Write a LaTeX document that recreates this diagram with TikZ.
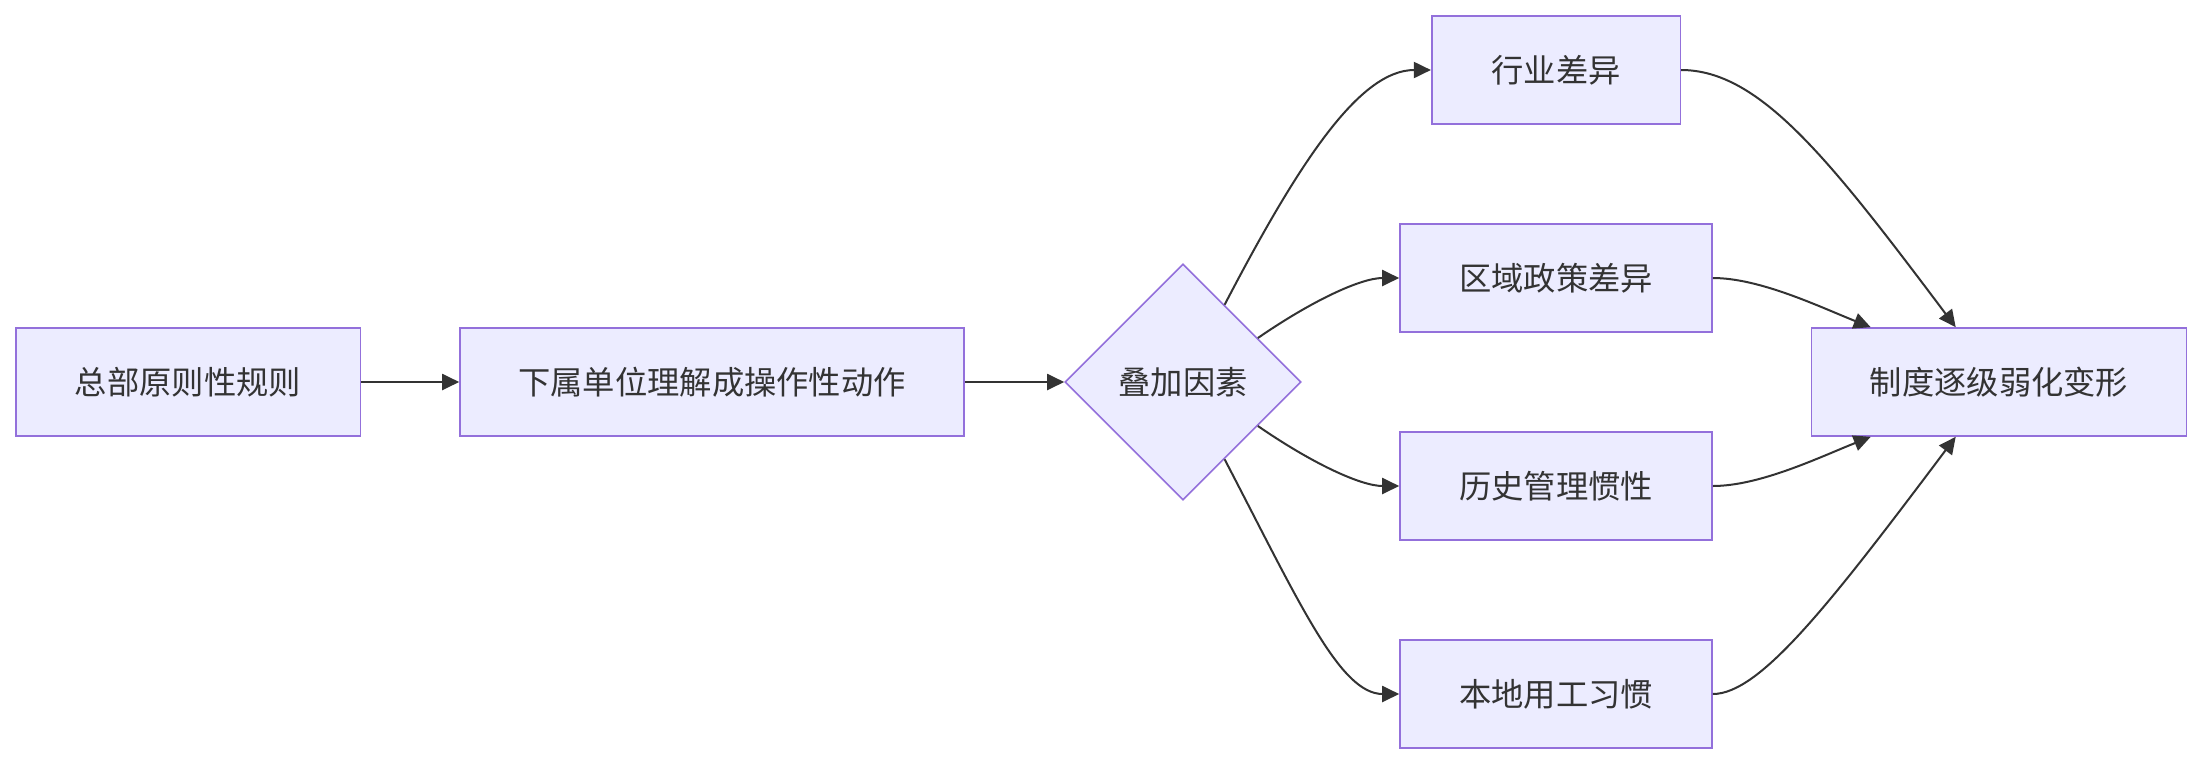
\documentclass[tikz,border=0pt]{standalone}
\usepackage{fontspec}
\newfontfamily\cjk{Noto Sans CJK SC}
\usetikzlibrary{arrows.meta,shapes.geometric,calc}
\definecolor{boxfill}{HTML}{ECECFF}
\definecolor{boxline}{HTML}{9370DB}
\definecolor{ink}{HTML}{333333}
\tikzset{
  box/.style={draw=boxline, fill=boxfill, line width=1.6pt, minimum height=108pt, inner sep=0pt, text=ink, font=\cjk\fontsize{32.3}{36}\selectfont},
  dia/.style={diamond, aspect=1, draw=boxline, fill=boxfill, line width=1.6pt, minimum width=236pt, minimum height=236pt, inner sep=0pt, text=ink, font=\cjk\fontsize{32.3}{36}\selectfont},
  conn/.style={draw=ink, line width=2pt, -{Triangle[length=17pt,width=16pt]}}
}
\begin{document}
\begin{tikzpicture}[x=1pt,y=-1pt]
\useasboundingbox (0,0) rectangle (2204,764);
\node[box, minimum width=344.6pt] (n1) at (188,382) {总部原则性规则};
\node[box, minimum width=504pt] (n2) at (712,382) {下属单位理解成操作性动作};
\node[dia] (d) at (1183,382) {叠加因素};
\node[box, minimum width=248.6pt] (ind) at (1556,70) {行业差异};
\node[box, minimum width=312pt] (reg) at (1556,278) {区域政策差异};
\node[box, minimum width=312pt] (his) at (1556,486) {历史管理惯性};
\node[box, minimum width=312pt] (loc) at (1556,694) {本地用工习惯};
\node[box, minimum width=375pt] (fin) at (1999,382) {制度逐级弱化变形};

\coordinate (s1) at ($(d.north)!0.35!(d.east)$);
\coordinate (s2) at ($(d.north)!0.63!(d.east)$);
\coordinate (s3) at ($(d.south)!0.63!(d.east)$);
\coordinate (s4) at ($(d.south)!0.35!(d.east)$);
\coordinate (t1) at ($(fin.north west)+(145,0)$);
\coordinate (t2) at ($(fin.north west)+(60,0)$);
\coordinate (t3) at ($(fin.south west)+(60,0)$);
\coordinate (t4) at ($(fin.south west)+(145,0)$);

\draw[conn] (n1.east) -- (n2.west);
\draw[conn] (n2.east) -- (d.west);
\draw[conn] (s1) .. controls (1300,160) and (1360,70) .. (ind.west);
\draw[conn] (s2) .. controls (1310,302) and (1360,278) .. (reg.west);
\draw[conn] (s3) .. controls (1310,462) and (1360,486) .. (his.west);
\draw[conn] (s4) .. controls (1300,604) and (1340,694) .. (loc.west);
\draw[conn] (ind.east) .. controls (1760,70) and (1830,160) .. (t1);
\draw[conn] (reg.east) .. controls (1760,278) and (1820,307) .. (t2);
\draw[conn] (his.east) .. controls (1760,486) and (1820,457) .. (t3);
\draw[conn] (loc.east) .. controls (1760,694) and (1830,604) .. (t4);
\end{tikzpicture}
\end{document}
